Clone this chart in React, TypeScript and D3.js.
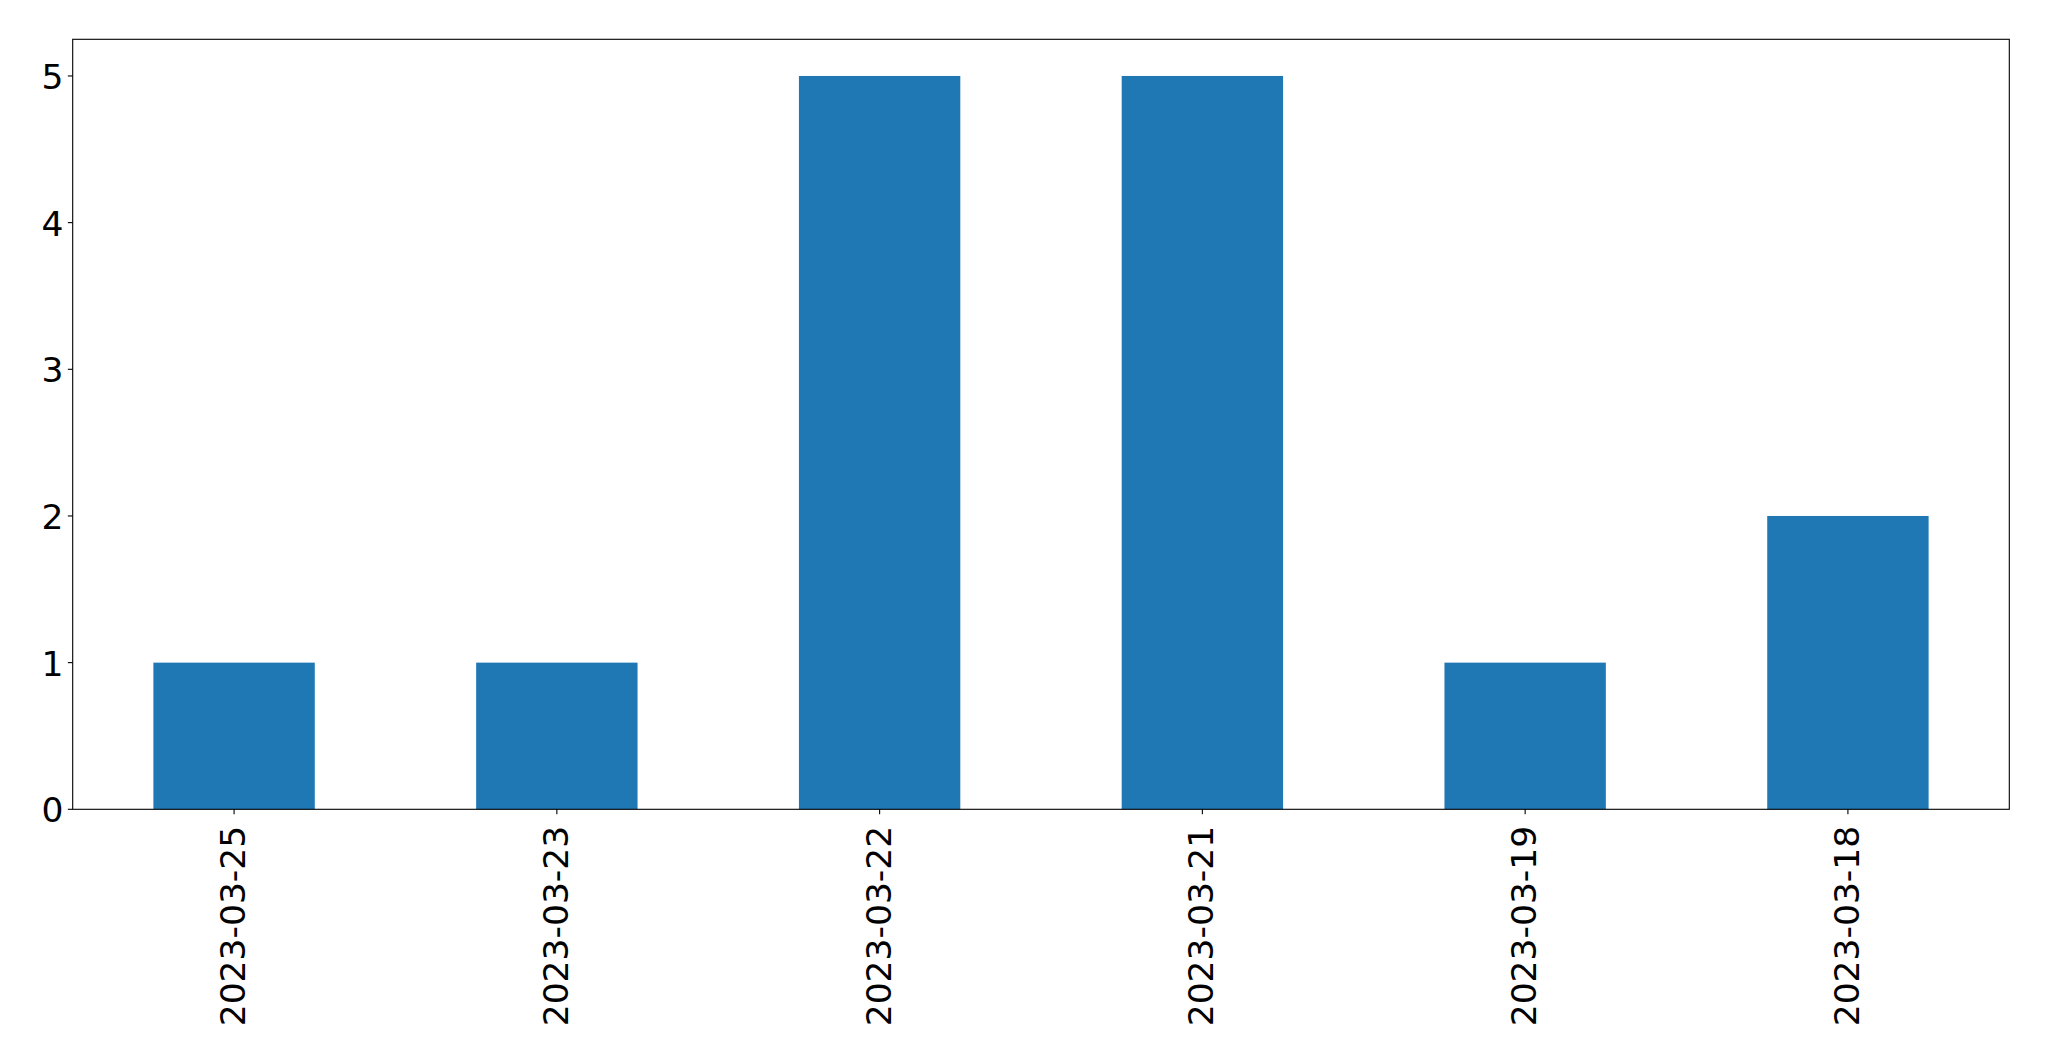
import React from "react";
import * as d3 from "d3";

const categories = ["2023-03-25", "2023-03-23", "2023-03-22", "2023-03-21", "2023-03-19", "2023-03-18"];
const values = [1, 1, 5, 5, 1, 2];
const yTicks = [0, 1, 2, 3, 4, 5];

export default function App() {
  const W = 2049, H = 1061;
  const left = 72.7, right = 2009.3, top = 39.3, bottom = 809.3;
  const fs = 34.5;
  const tick = 4.86;
  const pad = 4.86;
  const x = d3.scaleLinear().domain([-0.5, categories.length - 0.5]).range([left, right]);
  const yMax = 5 * 1.05;
  const y = d3.scaleLinear().domain([0, yMax]).range([bottom, top]);
  const bw = 0.5;
  return (
    <svg width={W} height={H} style={{ position: "absolute", left: 0, top: 0, background: "#fff" }}
      fontFamily="DejaVu Sans">
      <rect x={0} y={0} width={W} height={H} fill="#fff" />
      {values.map((v, i) => (
        <rect key={i} x={x(i - bw / 2)} y={y(v)} width={x(i + bw / 2) - x(i - bw / 2)} height={y(0) - y(v)} fill="#1f77b4" />
      ))}
      <rect x={left} y={top} width={right - left} height={bottom - top} fill="none" stroke="#000" strokeWidth={1.1} />
      {yTicks.map((t) => (
        <g key={t}>
          <line x1={left - tick} x2={left} y1={y(t)} y2={y(t)} stroke="#000" strokeWidth={1.1} />
          <text x={left - tick - pad + 0.5} y={y(t)} dy="0.38em" textAnchor="end" fontSize={fs} fill="#000">{t}</text>
        </g>
      ))}
      {categories.map((c, i) => (
        <g key={c}>
          <line x1={x(i)} x2={x(i)} y1={bottom} y2={bottom + tick} stroke="#000" strokeWidth={1.1} />
          <text transform={`translate(${x(i)},${bottom + 16.5}) rotate(-90)`} dy="0.32em" textAnchor="end" fontSize={fs} fill="#000">{c}</text>
        </g>
      ))}
    </svg>
  );
}
